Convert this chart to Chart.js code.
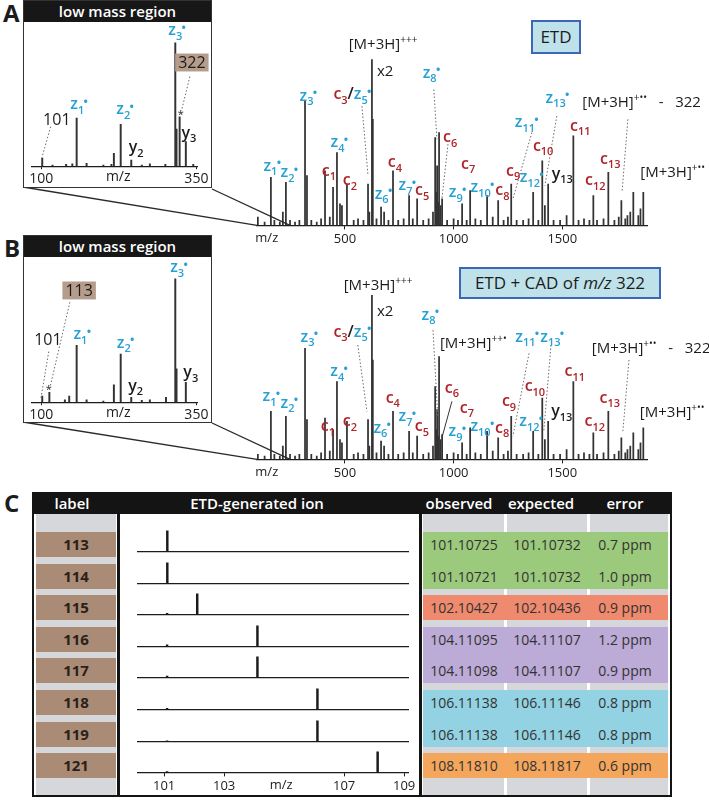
<!DOCTYPE html>
<html>
<head>
<meta charset="utf-8">
<script src="https://cdn.jsdelivr.net/npm/chart.js@4.4.0/dist/chart.umd.min.js"></script>
<style>
  body { margin: 0; }
  #fig { position: relative; width: 709px; height: 800px; background: #fff; overflow: hidden; font-family: 'Open Sans', sans-serif; color: #1c1c1c; }
  .abs, canvas { position: absolute; }
  .letter { position: absolute; font-weight: 700; font-size: 24px; line-height: 1; }
  .inset { position: absolute; left: 23px; width: 189px; background: #fff; border: 1.5px solid #333; box-sizing: border-box; z-index: 2; }
  .inset .hd { background: #171717; color: #fff; height: 21px; line-height: 21px; text-align: center; font-weight: 600; font-size: 15px; }
  .mode { position: absolute; background: #bfe2ea; border: 2px solid #3c66b8; box-sizing: border-box; font-size: 17px; text-align: center; z-index: 4; }
</style>
</head>
<body>
<div id="fig">
  <div class="letter" style="left:3px;top:1px">A</div>
  <div class="letter" style="left:4px;top:236px">B</div>
  <div class="letter" style="left:4px;top:491px">C</div>

  <canvas id="mainA" width="709" height="249" style="left:0;top:0;z-index:1"></canvas>
  <canvas id="mainB" width="709" height="249" style="left:0;top:234px;z-index:1"></canvas>

  <div class="inset" style="top:0;height:188px"><div class="hd">low mass region</div></div>
  <div class="inset" style="top:235px;height:188px"><div class="hd">low mass region</div></div>
  <canvas id="insA" width="187" height="165" style="left:24px;top:23px;z-index:3"></canvas>
  <canvas id="insB" width="187" height="165" style="left:24px;top:259px;z-index:3"></canvas>

  <div class="mode" style="left:531px;top:20px;width:50px;height:34px;line-height:30px">ETD</div>
  <div class="mode" style="left:459px;top:267px;width:202px;height:32px;line-height:28px">ETD + CAD of <i>m/z</i> 322</div>
</div>
<script>
// ---- data ----
const mainMz = [99, 130, 159, 175, 200, 214, 228, 247, 270, 290, 316, 325, 345, 370, 390, 408, 430, 445, 463, 477, 486, 509, 540, 560, 585, 606, 612, 624, 628, 645, 666, 680, 700, 721, 745, 770, 795, 812, 832, 860, 885, 905, 915, 920, 924, 929, 933, 940, 947, 970, 1000, 1020, 1039, 1060, 1076, 1100, 1125, 1154, 1180, 1205, 1230, 1250, 1265, 1290, 1320, 1345, 1366, 1390, 1408, 1420, 1435, 1460, 1490, 1520, 1551, 1575, 1600, 1625, 1643, 1660, 1690, 1712, 1740, 1760, 1772, 1790, 1800, 1813, 1827, 1850, 1860, 1873];
const mainIntA = [5, 2, 29, 3, 2, 8, 26, 3, 2, 3, 75, 30, 3, 2, 4, 33, 5, 23, 44, 13, 12, 25, 3, 4, 3, 25, 8, 100, 64, 4, 11, 8, 3, 33, 3, 4, 18, 4, 16, 3, 4, 8, 53, 20, 36, 14, 56, 12, 16, 3, 4, 3, 13, 3, 21, 4, 3, 18, 5, 15, 3, 5, 25, 3, 3, 4, 20, 3, 39, 12, 25, 3, 3, 6, 54, 3, 4, 3, 18, 3, 4, 32, 3, 5, 15, 4, 6, 8, 20, 6, 10, 20];
const mainIntB = [3, 2, 29, 3, 2, 8, 26, 3, 2, 3, 67, 24, 3, 2, 4, 25, 5, 18, 47, 12, 10, 23, 3, 4, 3, 24, 8, 99, 60, 4, 11, 8, 3, 29, 3, 4, 17, 4, 14, 3, 4, 8, 44, 18, 30, 14, 62, 12, 15, 3, 4, 3, 10, 3, 19, 4, 3, 17, 5, 13, 3, 5, 26, 3, 3, 4, 17, 3, 37, 12, 23, 3, 3, 6, 47, 3, 4, 3, 16, 3, 4, 29, 3, 5, 13, 4, 6, 8, 16, 6, 10, 19];
const mainTicks = [500, 1000, 1500];

const insetMzA = [101.5, 118, 140, 150, 157, 173, 200, 213, 217, 228, 245, 262, 275, 300, 316, 318, 323, 333, 345];
const insetIntA = [6.5, 1, 1.5, 2, 39, 2.4, 1, 1.5, 10.5, 34, 5, 1, 2, 1.5, 100, 30, 40, 20, 1.5];
const insetMzB = [101.5, 113, 138, 145, 157, 173, 200, 217, 228, 245, 262, 275, 301, 316, 318, 333];
const insetIntB = [5, 8, 2, 5, 46, 2, 1, 14, 39, 4, 1.5, 2, 4, 100, 27, 16];
const insetTicks = [100, 350];

const cLabels = ['113', '114', '115', '116', '117', '118', '119', '121'];
const cPeakMz = [101.107, 101.107, 102.104, 104.111, 104.111, 106.111, 106.111, 108.118];
const cHumpInt = [0, 0, 5, 8, 6, 5, 3, 4];
const cObserved = ['101.10725', '101.10721', '102.10427', '104.11095', '104.11098', '106.11138', '106.11138', '108.11810'];
const cExpected = ['101.10732', '101.10732', '102.10436', '104.11107', '104.11107', '106.11146', '106.11146', '108.11817'];
const cError = ['0.7 ppm', '1.0 ppm', '0.9 ppm', '1.2 ppm', '0.9 ppm', '0.8 ppm', '0.8 ppm', '0.6 ppm'];
const cTicks = [101, 103, 107, 109];

// ---- styling ----
const FONT = "'Open Sans', sans-serif";
const INK = '#1c1c1c', BLUE = '#27a0d3', RED = '#ae2429';
const GRAY = '#d6d7db', BROWN = '#a98b76';
const bands = [[0, 1, '#9cca7d'], [2, 2, '#ef8a6f'], [3, 4, '#bcaad7'], [5, 6, '#92d2e2'], [7, 7, '#f3a65c']];

const Z = n => [['z_{' + n + '}^•', BLUE]];
const C = n => [['c_{' + n + '}', RED]];
const Y = n => [['y_{' + n + '}', INK]];
const T = s => [[s, INK]];

function parseMarkup(s) {
  const out = [];
  let i = 0;
  while (i < s.length) {
    if (s[i] === '_' || s[i] === '^') {
      const mode = s[i] === '_' ? 'sub' : 'sup';
      i++;
      let t;
      if (s[i] === '{') { const j = s.indexOf('}', i); t = s.slice(i + 1, j); i = j + 1; }
      else { t = s[i]; i++; }
      out.push({ t, mode });
    } else {
      let j = i;
      while (j < s.length && s[j] !== '_' && s[j] !== '^') j++;
      out.push({ t: s.slice(i, j), mode: 'n' });
      i = j;
    }
  }
  return out;
}

function drawRich(ctx, x, y, parts, size, weight, align, box) {
  const segs = [];
  parts.forEach(([mk, col]) => parseMarkup(mk).forEach(s => segs.push({ ...s, col })));
  const dotOnly = s => s.mode === 'sup' && s.t === '•';
  const fs = s => s.mode === 'n' ? size : Math.round(size * (dotOnly(s) ? 0.8 : 0.68));
  let total = 0;
  segs.forEach(s => { ctx.font = `${weight} ${fs(s)}px ${FONT}`; s.w = ctx.measureText(s.t).width; total += s.w; });
  let x0 = align === 'left' ? x : x - total / 2;
  const base = y + size * 0.3;
  if (box) { ctx.fillStyle = box; ctx.fillRect(x0 - 3, y - size * 0.6, total + 6, size * 1.12); }
  ctx.textAlign = 'left';
  ctx.textBaseline = 'alphabetic';
  segs.forEach(s => {
    ctx.font = `${weight} ${fs(s)}px ${FONT}`;
    ctx.fillStyle = s.col;
    let dy = 0;
    if (s.mode === 'sub') dy = size * 0.28;
    else if (dotOnly(s)) dy = -size * 0.22;
    else if (s.mode === 'sup') dy = -size * 0.42;
    ctx.fillText(s.t, x0 - (dotOnly(s) ? 1 : 0), base + dy);
    x0 += s.w;
  });
}

function annotPlugin(id, labels, lines, extra) {
  return {
    id,
    afterDraw(chart) {
      const ctx = chart.ctx, xs = chart.scales.x, ys = chart.scales.y;
      const P = (m, v) => [xs.getPixelForValue(m), ys.getPixelForValue(v)];
      ctx.save();
      (lines || []).forEach(l => {
        const a = P(l.from[0], l.from[1]), b = P(l.to[0], l.to[1]);
        ctx.beginPath();
        ctx.setLineDash(l.solid ? [] : [1.5, 2]);
        ctx.strokeStyle = l.solid ? '#333' : '#6a6a6a';
        ctx.lineWidth = 1;
        ctx.moveTo(a[0], a[1]); ctx.lineTo(b[0], b[1]); ctx.stroke();
      });
      ctx.setLineDash([]);
      labels.forEach(L => {
        const p = P(L.x, L.v);
        drawRich(ctx, p[0], p[1], L.p, L.s || 16, L.w || 600, L.a || 'center', L.box);
      });
      if (extra) extra(chart, ctx, P);
      ctx.restore();
    }
  };
}

function axisNote(text, at, size, tickLen, tickPad) {
  return (chart, ctx) => {
    ctx.font = `400 ${size}px ${FONT}`;
    ctx.fillStyle = INK;
    ctx.textAlign = 'center';
    ctx.textBaseline = 'top';
    ctx.fillText(text, chart.scales.x.getPixelForValue(at), chart.chartArea.bottom + tickLen + tickPad);
  };
}

function spectrumChart(id, points, o) {
  return new Chart(document.getElementById(id), {
    type: 'bar',
    data: { datasets: [{ data: points, backgroundColor: o.color || '#333', barThickness: o.bar, grouped: false }] },
    options: {
      responsive: false, animation: false, devicePixelRatio: 1,
      layout: { padding: o.pad },
      plugins: { legend: { display: false }, tooltip: { enabled: false } },
      scales: {
        x: {
          type: 'linear', min: o.min, max: o.max, offset: false,
          afterBuildTicks: ax => { ax.ticks = o.ticks.map(v => ({ value: v })); },
          ticks: { autoSkip: false, maxRotation: 0, padding: o.tickPad, color: o.tickColor || INK,
                   font: { family: FONT, size: o.tickSize }, callback: v => String(v) },
          grid: { display: true, drawOnChartArea: false, drawTicks: true, tickLength: o.tickLen, color: o.markColor || INK, offset: false },
          border: { display: true, color: INK, width: 1.2 }
        },
        y: { display: false, min: 0, max: o.ymax }
      }
    },
    plugins: o.plugins || []
  });
}

// ---- panels A and B: main spectra ----
const labelsA = [
  { x: 168, v: 36, p: Z(1) }, { x: 247, v: 32, p: Z(2) }, { x: 334, v: 78, p: Z(3) },
  { x: 426, v: 33, p: C(1) }, { x: 477, v: 50, p: Z(4) }, { x: 523, v: 27, p: C(2) },
  { x: 537, v: 79, p: [['c_3', RED], ['/', INK], ['z_5^•', BLUE]] },
  { x: 675, v: 109, p: T('[M+3H]^{+++}'), w: 400, s: 15 },
  { x: 647, v: 93, p: T('x2'), w: 400, s: 15, a: 'left' },
  { x: 901, v: 92, p: Z(8) }, { x: 984, v: 53, p: C(6) }, { x: 730, v: 38, p: C(4) },
  { x: 680, v: 19, p: Z(6) }, { x: 790, v: 24, p: Z(7) }, { x: 855, v: 21, p: C(5) },
  { x: 1021, v: 20, p: Z(9) }, { x: 1067, v: 37, p: C(7) }, { x: 1136, v: 23, p: Z(10) },
  { x: 1224, v: 21, p: C(8) }, { x: 1274, v: 33, p: C(9) }, { x: 1339, v: 62, p: Z(11) },
  { x: 1362, v: 29, p: Z(12) }, { x: 1412, v: 48, p: C(10) }, { x: 1500, v: 31, p: Y(13) },
  { x: 1481, v: 77, p: Z(13) },
  { x: 1592, v: 74, p: T('[M+3H]^{+••}   -   322'), w: 400, s: 15, a: 'left' },
  { x: 1583, v: 60, p: C(11) }, { x: 1652, v: 27, p: C(12) }, { x: 1721, v: 40, p: C(13) },
  { x: 1859, v: 32, p: T('[M+3H]^{+••}'), w: 400, s: 15, a: 'left' }
];
const linesA = [
  { from: [578, 72], to: [606, 30] }, { from: [909, 82], to: [923, 52] },
  { from: [974, 49], to: [946, 16] }, { from: [1360, 56], to: [1273, 16] },
  { from: [1475, 66], to: [1420, 24] }, { from: [1802, 64], to: [1775, 20] }
];
const labelsB = [
  { x: 164, v: 38, p: Z(1) }, { x: 247, v: 34, p: Z(2) }, { x: 339, v: 74, p: Z(3) },
  { x: 421, v: 20, p: C(1) }, { x: 476, v: 53, p: Z(4) }, { x: 523, v: 23, p: C(2) },
  { x: 537, v: 77, p: [['c_3', RED], ['/', INK], ['z_5^•', BLUE]] },
  { x: 652, v: 105, p: T('[M+3H]^{+++}'), w: 400, s: 15 },
  { x: 647, v: 89, p: T('x2'), w: 400, s: 15, a: 'left' },
  { x: 896, v: 87, p: Z(8) },
  { x: 937, v: 70, p: T('[M+3H]^{++•}'), w: 400, s: 15, a: 'left' },
  { x: 992, v: 43, p: C(6) }, { x: 720, v: 37, p: C(4) }, { x: 674, v: 19, p: Z(6) },
  { x: 790, v: 26, p: Z(7) }, { x: 854, v: 20, p: C(5) }, { x: 1020, v: 17, p: Z(9) },
  { x: 1061, v: 31, p: C(7) }, { x: 1135, v: 20, p: Z(10) }, { x: 1223, v: 19, p: C(8) },
  { x: 1255, v: 35, p: C(9) }, { x: 1342, v: 74, p: Z(11) }, { x: 1457, v: 74, p: Z(13) },
  { x: 1360, v: 23, p: Z(12) }, { x: 1374, v: 44, p: C(10) }, { x: 1498, v: 29, p: Y(13) },
  { x: 1558, v: 53, p: C(11) }, { x: 1650, v: 23, p: C(12) }, { x: 1719, v: 37, p: C(13) },
  { x: 1636, v: 67, p: T('[M+3H]^{+••}   -   322'), w: 400, s: 15, a: 'left' },
  { x: 1857, v: 28, p: T('[M+3H]^{+••}'), w: 400, s: 15, a: 'left' }
];
const linesB = [
  { from: [559, 69], to: [601, 29] }, { from: [905, 78], to: [927, 26] },
  { from: [992, 35], to: [946, 13], solid: true }, { from: [1347, 64], to: [1273, 14] },
  { from: [1448, 69], to: [1415, 17] }, { from: [1807, 60], to: [1779, 17] }
];

function zoomLines(cornerL, cornerR, fromMz, toMz) {
  return (chart, ctx, P) => {
    ctx.strokeStyle = '#2a2a2a';
    ctx.lineWidth = 1.3;
    const a = P(fromMz, 0), b = P(toMz, 0);
    ctx.beginPath(); ctx.moveTo(cornerL[0], cornerL[1]); ctx.lineTo(a[0], a[1]); ctx.stroke();
    ctx.beginPath(); ctx.moveTo(cornerR[0], cornerR[1]); ctx.lineTo(b[0], b[1]); ctx.stroke();
    axisNote('m/z', 140, 13, 4, 2)(chart, ctx);
  };
}

const mainOpts = { min: 95, max: 1890, ymax: 136, bar: 1.1, ticks: mainTicks, tickSize: 13, tickLen: 4, tickPad: 2,
  pad: { left: 257, right: 62, top: 0, bottom: 0 } };
spectrumChart('mainA', mainMz.map((m, i) => ({ x: m, y: mainIntA[i] })),
  { ...mainOpts, plugins: [annotPlugin('annA', labelsA, linesA, zoomLines([23, 187], [212, 189], 95, 247))] });
spectrumChart('mainB', mainMz.map((m, i) => ({ x: m, y: mainIntB[i] })),
  { ...mainOpts, plugins: [annotPlugin('annB', labelsB, linesB, zoomLines([23, 188], [212, 189], 95, 247))] });

// ---- insets ----
const insLabelsA = [
  { x: 125, v: 37, p: T('101'), w: 400 }, { x: 162, v: 50, p: Z(1) }, { x: 236, v: 46, p: Z(2) },
  { x: 253, v: 15, p: Y(2) }, { x: 320, v: 110, p: Z(3) },
  { x: 342.7, v: 83.5, p: T('322'), w: 400, box: '#b69c8b' },
  { x: 325, v: 42, p: T('*'), w: 400, s: 11 }, { x: 338, v: 27, p: Y(3) }
];
const insLinesA = [{ from: [115, 32], to: [101, 7] }, { from: [339.5, 72.6], to: [326, 45] }];
const insLabelsB = [
  { x: 161, v: 90, p: T('113'), w: 400, box: '#b69c8b' }, { x: 110.6, v: 50, p: T('101'), w: 400 },
  { x: 112, v: 10, p: T('*'), w: 400, s: 11 }, { x: 167, v: 55, p: Z(1) }, { x: 237, v: 48, p: Z(2) },
  { x: 252, v: 13, p: Y(2) }, { x: 323, v: 109, p: Z(3) }, { x: 341, v: 24, p: Y(3) }
];
const insLinesB = [{ from: [112, 41], to: [99, 2] }, { from: [146, 81], to: [114, 12] }];

const insetOpts = { min: 85, max: 351, ymax: 116, bar: 1.3, ticks: insetTicks, tickSize: 14, tickLen: 3, tickPad: 1,
  pad: { left: 8, right: 14, top: 0, bottom: 0 } };
spectrumChart('insA', insetMzA.map((m, i) => ({ x: m, y: insetIntA[i] })),
  { ...insetOpts, plugins: [annotPlugin('insAnnA', insLabelsA, insLinesA, axisNote('m/z', 224, 14, 3, 1))] });
spectrumChart('insB', insetMzB.map((m, i) => ({ x: m, y: insetIntB[i] })),
  { ...insetOpts, plugins: [annotPlugin('insAnnB', insLabelsB, insLinesB, axisNote('m/z', 224, 14, 3, 1))] });

// ---- panel C table ----
const fig = document.getElementById('fig');
function box(l, t, w, h, style, text) {
  const d = document.createElement('div');
  d.className = 'abs';
  Object.assign(d.style, { left: l + 'px', top: t + 'px', width: w + 'px', height: h + 'px' }, style || {});
  if (text != null) d.textContent = text;
  fig.appendChild(d);
  return d;
}
const rowTop = i => Math.round(532 + i * 31.6);
const headStyle = { color: '#fff', font: `600 15px ${FONT}`, textAlign: 'center', lineHeight: '22px', zIndex: 4 };
box(32, 492, 640, 22, { background: '#141414' });
[['label', 72], ['ETD-generated ion', 257], ['observed', 459], ['expected', 541], ['error', 625]]
  .forEach(([t, cx]) => box(cx - 80, 492, 160, 22, headStyle, t));
box(36, 514, 80, 282, { background: GRAY });
box(117, 513, 3, 284, { background: '#141414', zIndex: 4 });
box(419, 513, 3, 284, { background: '#141414', zIndex: 4 });
box(423, 514, 245, 282, { background: GRAY });
box(504, 514, 3, 282, { background: '#fff' });
box(587, 514, 3, 282, { background: '#fff' });
bands.forEach(([a, b, col]) => box(423, rowTop(a), 245, rowTop(b) + 25 - rowTop(a), { background: col }));
const cellStyle = { font: `400 14px ${FONT}`, lineHeight: '25px', textAlign: 'center', color: '#333' };
cLabels.forEach((lab, i) => {
  const t = rowTop(i);
  box(36, t, 80, 25, { background: BROWN, font: `700 15px ${FONT}`, lineHeight: '25px', textAlign: 'center', color: '#2b211b' }, lab);
  box(464 - 45, t, 90, 25, cellStyle, cObserved[i]);
  box(547 - 45, t, 90, 25, cellStyle, cExpected[i]);
  box(625 - 40, t, 80, 25, cellStyle, cError[i]);

  const cv = document.createElement('canvas');
  cv.id = 'cs' + i; cv.width = 302; cv.height = 48;
  Object.assign(cv.style, { left: '118px', top: (t + 21 - 26) + 'px', zIndex: 2 });
  fig.appendChild(cv);
  const pts = [{ x: cPeakMz[i], y: 100 }];
  if (cHumpInt[i] > 0) pts.push({ x: 101.1, y: cHumpInt[i] });
  const last = i === cLabels.length - 1;
  spectrumChart(cv.id, pts, {
    min: 100.13, max: 109.13, ymax: 118, bar: 1.8, ticks: cTicks, tickSize: 13, tickLen: 4, tickPad: 2,
    tickColor: last ? INK : 'rgba(0,0,0,0)', markColor: last ? INK : 'rgba(0,0,0,0)', color: '#1a1a1a',
    pad: { left: 20, right: 12, top: 0, bottom: 0 },
    plugins: last ? [annotPlugin('cNote', [], [], axisNote('m/z', 104.9, 13, 4, 2))] : []
  });
});
box(32, 492, 640, 305, { border: '2px solid #141414', boxSizing: 'border-box', zIndex: 5 });
</script>
</body>
</html>
